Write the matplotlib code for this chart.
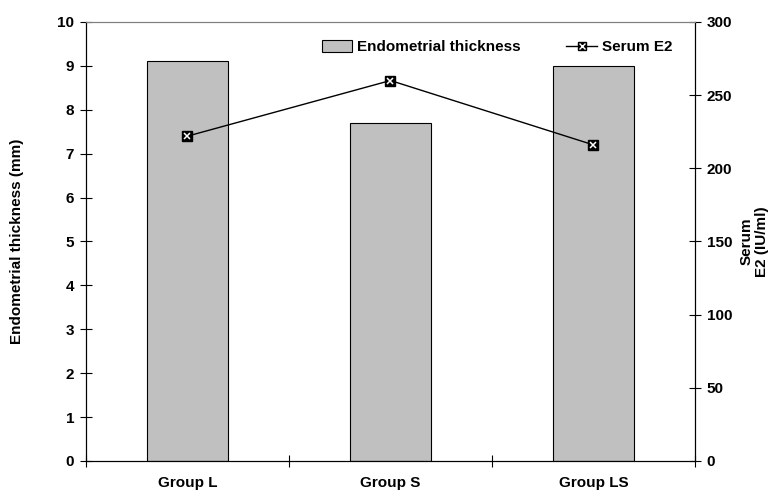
import matplotlib
matplotlib.use('Agg')
import matplotlib.pyplot as plt
from matplotlib.lines import Line2D
from matplotlib.patches import Patch

# data
groups = ['Group L', 'Group S', 'Group LS']
thickness = [9.1, 7.7, 9.0]
serum_e2 = [222, 260, 216]

plt.rcParams['font.family'] = ['Liberation Sans', 'DejaVu Sans']
plt.rcParams['font.weight'] = 'bold'
plt.rcParams['font.size'] = 11

fig = plt.figure(figsize=(7.78, 4.95), dpi=100)
ax = fig.add_axes([0.1105, 0.0687, 0.7828, 0.8869])
x = list(range(len(groups)))

ax.bar(x, thickness, width=0.4, color='#c0c0c0', edgecolor='black', linewidth=0.8)
ax.set_xlim(-0.5, len(groups) - 0.5)
ax.set_ylim(0, 10)
ax.set_yticks(range(0, 11))
ax.set_xticks([i - 0.5 for i in range(len(groups) + 1)])
ax.set_xticklabels([])
ax.set_xticks(x, minor=True)
ax.set_xticklabels(groups, minor=True, fontweight='bold')
ax.tick_params(axis='x', which='minor', length=0, pad=11)
ax.tick_params(axis='x', which='major', direction='inout', length=9)
ax.tick_params(axis='y', direction='inout', length=9, pad=4)
ax.set_ylabel('Endometrial thickness (mm)', fontweight='bold', labelpad=24)
ax.spines['top'].set_color('#808080')

ax2 = ax.twinx()
ax2.plot(x, serum_e2, color='black', linewidth=1)
ax2.plot(x, serum_e2, linestyle='none', marker='s', markersize=7, color='black')
ax2.plot(x, serum_e2, linestyle='none', marker='x', markersize=5,
         markeredgecolor='white', markeredgewidth=1.1)
ax2.set_ylim(0, 300)
ax2.set_yticks(range(0, 301, 50))
ax2.tick_params(axis='y', direction='inout', length=9, pad=4)
ax2.set_ylabel('Serum\nE2 (IU/ml)', fontweight='bold', labelpad=5)
ax2.spines['top'].set_color('#808080')

handles = [Patch(facecolor='#c0c0c0', edgecolor='black', linewidth=0.8),
           (Line2D([], [], color='black', linewidth=1),
            Line2D([], [], linestyle='none', marker='s', markersize=6, color='black'),
            Line2D([], [], linestyle='none', marker='x', markersize=4,
                   markeredgecolor='white', markeredgewidth=1))]
ax2.legend(handles, ['Endometrial thickness', 'Serum E2'], loc='upper right',
           bbox_to_anchor=(0.985, 0.99), ncol=2, frameon=False, fontsize=11,
           handlelength=2.0, handleheight=0.8, columnspacing=3.0, handletextpad=0.3)

fig.savefig('out.png', dpi=100)
